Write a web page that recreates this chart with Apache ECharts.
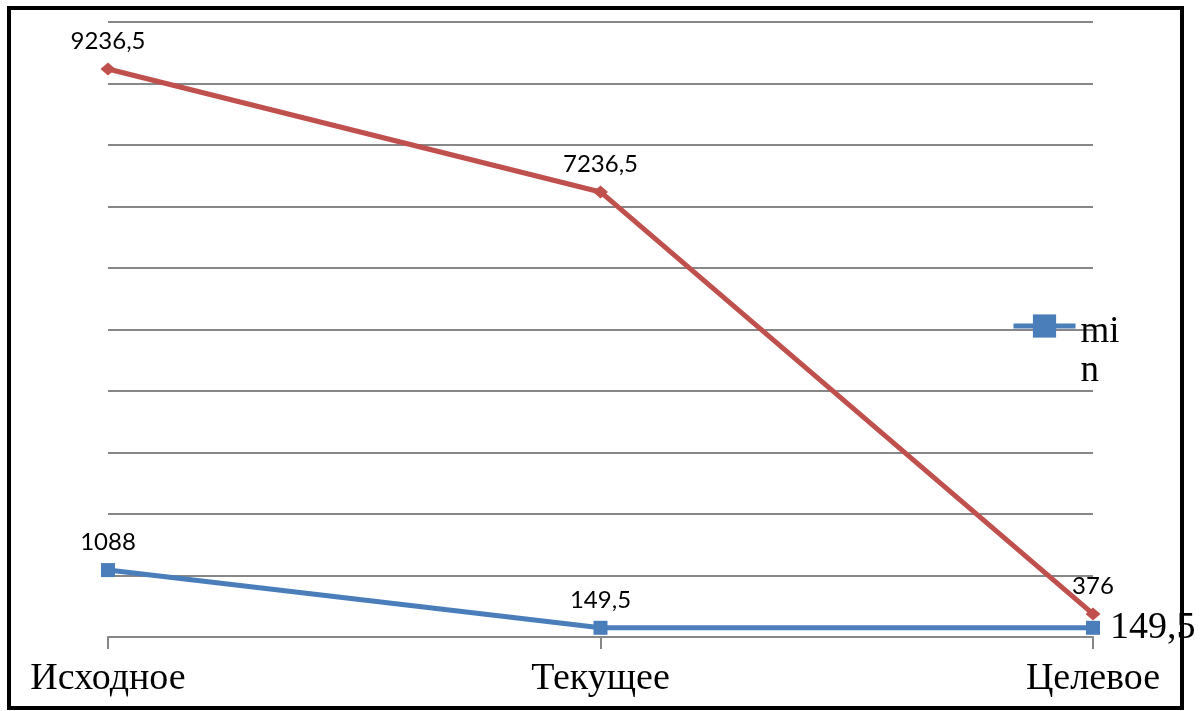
<!DOCTYPE html>
<html>
<head>
<meta charset="utf-8">
<script src="https://cdn.jsdelivr.net/npm/echarts@6/dist/echarts.min.js"></script>
<style>
  html, body { margin: 0; padding: 0; background: #fff; }
  #chart { width: 1203px; height: 711px; }
</style>
</head>
<body>
<div id="chart"></div>
<script>
// Stages along the category axis
const categories = ['Исходное', 'Текущее', 'Целевое'];
// Upper series (no legend entry)
const maxValues = [9236.5, 7236.5, 376];
// Lower series, shown in the legend as "min"
const minValues = [1088, 149.5, 149.5];
// Value axis range
const yMin = 0, yMax = 10000, yStep = 1000;

const RED = '#C0504D';
const BLUE = '#4A7EBB';
const GRID = '#878787';
const SANS = 'Lato, "Open Sans", sans-serif';
const SERIF = '"Liberation Serif", "DejaVu Serif", serif';

const fmt = v => String(v).replace('.', ',');

const chart = echarts.init(document.getElementById('chart'), null, { renderer: 'canvas' });

chart.setOption({
  backgroundColor: '#fff',
  animation: false,
  graphic: [{
    type: 'rect',
    z: -1,
    shape: { x: 9, y: 8, width: 1173, height: 700 },
    style: { fill: 'none', stroke: '#000', lineWidth: 4 }
  }],
  grid: { left: 108, right: 110, top: 22, bottom: 74, containLabel: false },
  legend: {
    data: ['min'],
    orient: 'vertical',
    left: 1006,
    top: 277,
    itemWidth: 62,
    itemHeight: 29,
    itemGap: 0,
    lineStyle: { width: 5 },
    // legend name wraps onto two lines, sitting slightly below the key
    formatter: () => '{s| }\n{t|mi}\n{t|n}',
    textStyle: {
      fontFamily: SERIF,
      fontSize: 37,
      color: '#000',
      rich: {
        s: { lineHeight: 51, fontSize: 10 },
        t: { fontFamily: SERIF, fontSize: 37, lineHeight: 39, color: '#000' }
      }
    }
  },
  xAxis: {
    type: 'category',
    data: categories,
    boundaryGap: false,
    axisLine: { show: true, lineStyle: { color: GRID, width: 2 } },
    axisTick: { show: true, length: 12, lineStyle: { color: GRID, width: 2 } },
    axisLabel: {
      fontFamily: SERIF,
      fontSize: 38,
      color: '#000',
      margin: 23
    }
  },
  yAxis: {
    type: 'value',
    min: yMin,
    max: yMax,
    interval: yStep,
    axisLine: { show: false },
    axisTick: { show: false },
    axisLabel: { show: false },
    splitLine: { show: true, lineStyle: { color: GRID, width: 2 } }
  },
  series: [
    {
      name: 'max',
      type: 'line',
      data: maxValues,
      symbol: 'diamond',
      symbolSize: [15, 13],
      lineStyle: { color: RED, width: 5 },
      itemStyle: { color: RED },
      label: {
        show: true,
        position: 'top',
        distance: 9,
        fontFamily: SANS,
        fontSize: 24,
        color: '#000',
        formatter: p => fmt(p.value)
      },
      z: 4
    },
    {
      name: 'min',
      type: 'line',
      data: minValues.map((v, i) => i === minValues.length - 1
        ? {
            value: v,
            label: {
              position: 'right',
              distance: 10,
              fontFamily: SERIF,
              fontSize: 38
            }
          }
        : v),
      symbol: 'rect',
      symbolSize: 14,
      lineStyle: { color: BLUE, width: 5 },
      itemStyle: { color: BLUE },
      label: {
        show: true,
        position: 'top',
        distance: 9,
        fontFamily: SANS,
        fontSize: 24,
        color: '#000',
        formatter: p => fmt(p.value)
      },
      z: 3
    }
  ]
});
</script>
</body>
</html>
